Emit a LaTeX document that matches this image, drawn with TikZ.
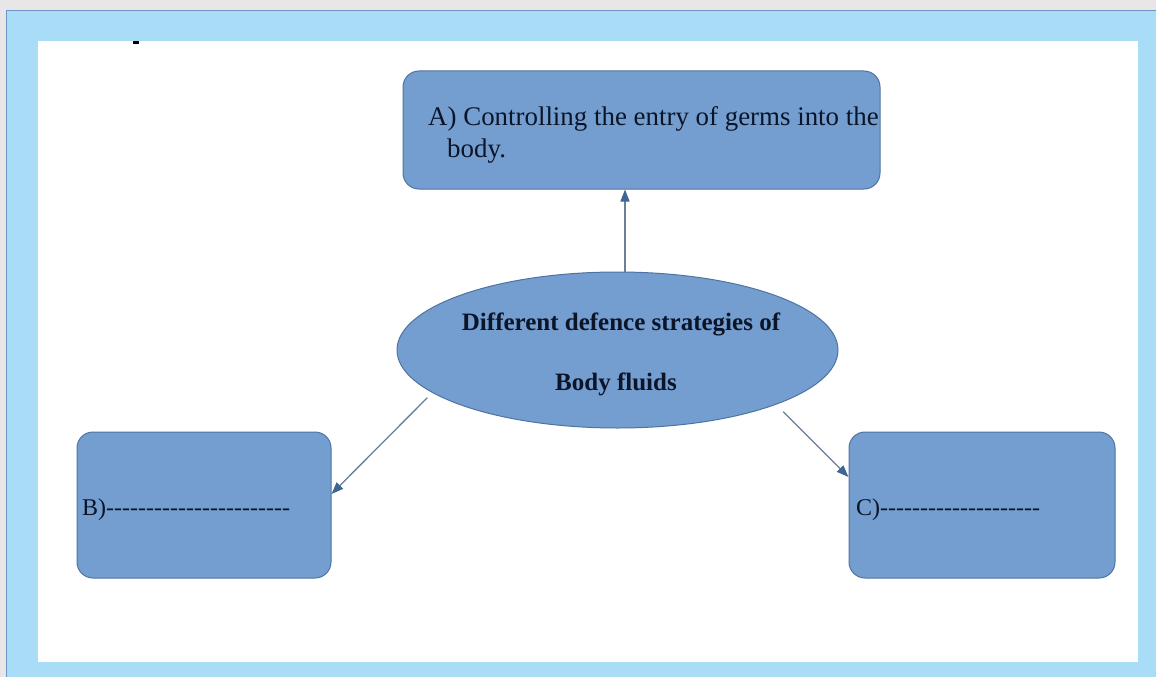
\documentclass[tikz,border=0pt]{standalone}
\usepackage{fontspec}
\newfontfamily\libserif{Liberation Serif}[Ligatures=TeXOff]
\usetikzlibrary{shapes.geometric,arrows.meta}
\definecolor{graybg}{HTML}{E8E6E7}
\definecolor{bgblue}{HTML}{A9DCF7}
\definecolor{blueedge}{HTML}{6F94C8}
\definecolor{boxfill}{HTML}{739ECF}
\definecolor{boxline}{HTML}{4F73A0}
\definecolor{txtcol}{HTML}{0C1428}
\definecolor{arrline}{HTML}{6A7F98}
\definecolor{arrtip}{HTML}{3D6694}
\newcount\hycnt
\newcommand\hyrun[1]{\hycnt=0\relax\loop\ifnum\hycnt<#1\relax -\kern0pt\advance\hycnt by 1 \repeat}
\begin{document}
\begin{tikzpicture}[x=1pt,y=-1pt,
  box/.style={draw=boxline, line width=1pt, fill=boxfill, rounded corners=16pt, inner sep=0pt},
  ell/.style={ellipse, draw=boxline, line width=1pt, fill=boxfill, inner sep=0pt, minimum width=441pt, minimum height=156pt},
  txt/.style={inner sep=0pt, text=txtcol, font=\libserif\fontsize{26.9}{30}\selectfont},
  btxt/.style={inner sep=0pt, text=txtcol, font=\libserif\bfseries\fontsize{25}{30}\selectfont},
  stxt/.style={inner sep=0pt, text=txtcol, font=\libserif\fontsize{24}{28}\selectfont},
  arr/.style={draw=arrline, line width=1.3pt, -{Triangle[length=12pt,width=9pt,fill=arrtip,color=arrtip]}}]
\useasboundingbox (0,0) rectangle (1156,677);
\fill[graybg] (0,0) rectangle (1156,677);
\fill[bgblue] (6,10) rectangle (1156,677);
\draw[blueedge, line width=1pt] (6.5,677) -- (6.5,10.5) -- (1156,10.5);
\fill[white] (38,41) rectangle (1138,662);
\fill[black] (133,41) rectangle (139,44.5);

\node[box, minimum width=477pt, minimum height=118pt] (A) at (641.5,130) {};
\node[box, minimum width=254pt, minimum height=146pt] (B) at (204,505) {};
\node[box, minimum width=266pt, minimum height=146pt] (C) at (982,505) {};
\node[ell] (E) at (617.5,350) {};

\node[txt, anchor=base west] (a1) at (428,125) {A) Controlling the entry of germs into the};
\node[txt, anchor=base west] (a2) at (447,157) {body.};
\node[btxt, anchor=base] (e1) at (621,330) {Different defence strategies of};
\node[btxt, anchor=base] (e2) at (616,390) {Body fluids};
\node[stxt, anchor=base west] (b1) at (82,515) {B)\hyrun{23}};
\node[stxt, anchor=base west] (c1) at (856,515) {C)\hyrun{20}};

\draw[arr] ([xshift=7.5pt]E.north) -- ([xshift=-16.5pt]A.south);
\draw[arr, shorten <=7pt] (E.193) -- ([yshift=11pt]B.east);
\draw[arr, shorten <=10pt] (E.-19.6) -- ([yshift=28pt]C.west);
\end{tikzpicture}
\end{document}
